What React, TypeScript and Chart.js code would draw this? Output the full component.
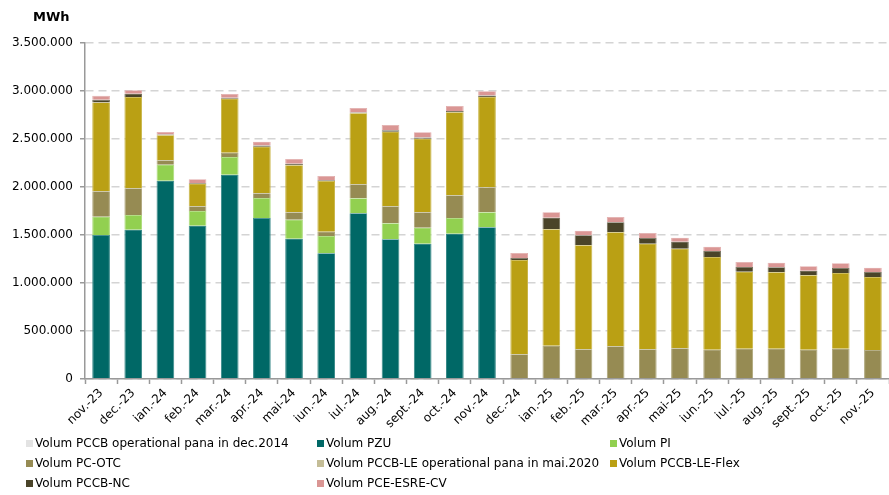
import { useEffect, useRef } from "react";
import { Chart, registerables } from "chart.js";

Chart.register(...registerables);

const FONT = "'DejaVu Sans', Verdana, sans-serif";

const labels = [
  "nov.-23", "dec.-23", "ian.-24", "feb.-24", "mar.-24", "apr.-24", "mai-24", "iun.-24",
  "iul.-24", "aug.-24", "sept.-24", "oct.-24", "nov.-24", "dec.-24", "ian.-25", "feb.-25",
  "mar.-25", "apr.-25", "mai-25", "iun.-25", "iul.-25", "aug.-25", "sept.-25", "oct.-25", "nov.-25",
];

const pccbDec2014 = [0, 0, 0, 0, 0, 0, 0, 0, 0, 0, 0, 0, 0, 0, 0, 0, 0, 0, 0, 0, 0, 0, 0, 0, 0];
const pzu = [1500000, 1555000, 2066000, 1597000, 2128000, 1677000, 1462000, 1309000, 1726000, 1455000, 1410000, 1514000, 1580000, 0, 0, 0, 0, 0, 0, 0, 0, 0, 0, 0, 0];
const pi = [190000, 153000, 166000, 153000, 184000, 208000, 197000, 181000, 156000, 167000, 166000, 163000, 156000, 0, 0, 0, 0, 0, 0, 0, 0, 0, 0, 0, 0];
const pcOtc = [265000, 278000, 46000, 49000, 45000, 49000, 77000, 44000, 146000, 177000, 160000, 237000, 261000, 257000, 347000, 309000, 340000, 309000, 320000, 305000, 316000, 316000, 305000, 316000, 302000];
const pccbLeMai2020 = [0, 0, 0, 0, 0, 0, 0, 0, 0, 0, 0, 0, 0, 0, 0, 0, 0, 0, 0, 0, 0, 0, 0, 0, 0];
const pccbLeFlex = [925000, 951000, 260000, 235000, 563000, 486000, 490000, 528000, 739000, 777000, 767000, 864000, 940000, 983000, 1212000, 1084000, 1188000, 1101000, 1037000, 966000, 802000, 795000, 775000, 788000, 760000];
const pccbNc = [28000, 35000, 8000, 8000, 10000, 12000, 15000, 8000, 10000, 15000, 12000, 14000, 15000, 20000, 121000, 104000, 104000, 59000, 73000, 62000, 49000, 52000, 48000, 52000, 53000];
const pceEsreCv = [42000, 35000, 27000, 38000, 39000, 40000, 51000, 45000, 46000, 55000, 55000, 52000, 45000, 52000, 56000, 48000, 56000, 52000, 42000, 45000, 52000, 49000, 46000, 49000, 45000];

const seriesNames = [
  "Volum PCCB operational pana in dec.2014",
  "Volum PZU",
  "Volum PI",
  "Volum PC-OTC",
  "Volum PCCB-LE operational pana in mai.2020",
  "Volum PCCB-LE-Flex",
  "Volum PCCB-NC",
  "Volum PCE-ESRE-CV",
];
const seriesValues = [pccbDec2014, pzu, pi, pcOtc, pccbLeMai2020, pccbLeFlex, pccbNc, pceEsreCv];
const seriesColors = ["#e3e3e3", "#006866", "#92d050", "#968b53", "#c4bd97", "#baa014", "#4a4429", "#da9694"];

const yMax = 3500000;
const yStep = 500000;

function lighten(hex: string, amt: number) {
  const n = parseInt(hex.slice(1), 16);
  const r = (n >> 16) & 255, g = (n >> 8) & 255, b = n & 255;
  const f = (c: number) => Math.round(c + (255 - c) * amt);
  return `rgb(${f(r)},${f(g)},${f(b)})`;
}

function fmt(v: number) {
  return String(v).replace(/\B(?=(\d{3})+(?!\d))/g, ".");
}

const legendCols = [26, 317, 610];
const legendRows = [443, 463, 483];

export default function App() {
  const ref = useRef<HTMLCanvasElement>(null);

  useEffect(() => {
    document.body.style.margin = "0";
    const canvas = ref.current;
    if (!canvas) return;
    const chart = new Chart(canvas, {
      type: "bar",
      data: {
        labels,
        datasets: seriesNames.map((name, i) => ({
          label: name,
          data: seriesValues[i],
          backgroundColor: seriesColors[i],
          borderColor: lighten(seriesColors[i], 0.22),
          borderWidth: { left: 1, right: 1, top: 0.6, bottom: 0 },
          borderSkipped: false,
          barPercentage: 0.55,
          categoryPercentage: 1,
        })),
      },
      options: {
        animation: false,
        responsive: false,
        maintainAspectRatio: false,
        layout: { padding: { top: 43, right: 0, bottom: 66, left: 0 } },
        plugins: { legend: { display: false }, tooltip: { enabled: false } },
        scales: {
          x: {
            stacked: true,
            grid: {
              drawOnChartArea: false,
              drawTicks: true,
              tickLength: 5,
              tickColor: "#999",
              tickWidth: 1.5,
              offset: true,
            },
            border: { color: "#999", width: 1.5, z: 1 },
            ticks: {
              minRotation: 45,
              maxRotation: 45,
              autoSkip: false,
              color: "#000",
              padding: 2,
              font: { family: FONT, size: 12 },
            },
            afterFit: (s: any) => {
              s.height = 50;
            },
          },
          y: {
            stacked: true,
            min: 0,
            max: yMax,
            ticks: {
              stepSize: yStep,
              color: "#000",
              padding: 7,
              font: { family: FONT, size: 12 },
              callback: (v: any) => fmt(Number(v)),
            },
            grid: {
              color: "#d4d4d4",
              lineWidth: 1.5,
              drawTicks: true,
              tickLength: 5,
              tickColor: "#999",
              tickWidth: 1.5,
            },
            border: { color: "#999", width: 1.5, dash: [8, 5] },
            afterFit: (s: any) => {
              s.width = 85;
            },
          },
        },
      },
    });
    return () => chart.destroy();
  }, []);

  return (
    <div style={{ position: "relative", width: 889, height: 495, fontFamily: FONT }}>
      <canvas ref={ref} width={889} height={495} style={{ display: "block" }} />
      <div
        style={{
          position: "absolute",
          left: 33,
          top: 9,
          fontSize: 13,
          fontWeight: "bold",
          lineHeight: "16px",
          color: "#000",
        }}
      >
        MWh
      </div>
      {seriesNames.map((name, i) => (
        <div
          key={name}
          style={{
            position: "absolute",
            left: legendCols[i % 3],
            top: legendRows[Math.floor(i / 3)] - 8,
            height: 16,
            display: "flex",
            alignItems: "center",
            fontSize: 12,
            color: "#000",
            whiteSpace: "nowrap",
          }}
        >
          <span
            style={{
              display: "inline-block",
              width: 7,
              height: 7,
              background: seriesColors[i],
              marginRight: 2,
            }}
          />
          <span>{name}</span>
        </div>
      ))}
    </div>
  );
}
